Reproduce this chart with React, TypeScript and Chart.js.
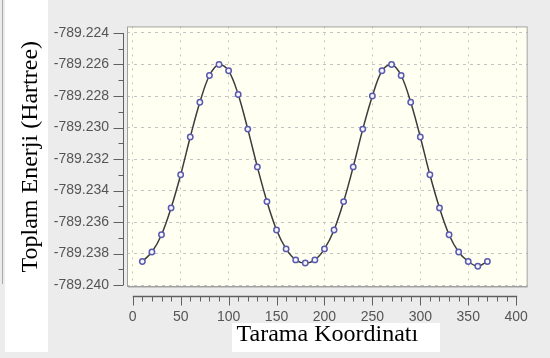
import React, { useEffect, useRef } from "react";
import { Chart, registerables } from "chart.js";

Chart.register(...registerables);

// Scan coordinate (degrees)
const scanCoordinates = [
  10, 20, 30, 40, 50, 60, 70, 80, 90, 100, 110, 120, 130, 140, 150, 160, 170, 180,
  190, 200, 210, 220, 230, 240, 250, 260, 270, 280, 290, 300, 310, 320, 330, 340,
  350, 360, 370,
];

// Total energy (Hartree)
const totalEnergies = [
  -789.2385, -789.2379, -789.2368, -789.2351, -789.233, -789.2306, -789.2284,
  -789.2267, -789.226, -789.2264, -789.2279, -789.2301, -789.2325, -789.2347,
  -789.2365, -789.2377, -789.2384, -789.2386, -789.2384, -789.2377, -789.2365,
  -789.2347, -789.2325, -789.2301, -789.228, -789.2264, -789.226, -789.2267,
  -789.2284, -789.2306, -789.233, -789.2351, -789.2368, -789.2379, -789.2385,
  -789.2388, -789.2385,
];

const xTickValues = [0, 50, 100, 150, 200, 250, 300, 350, 400];
const xMinorTickValues = [
  10, 20, 30, 40, 60, 70, 80, 90, 110, 120, 130, 140, 160, 170, 180, 190, 210, 220,
  230, 240, 260, 270, 280, 290, 310, 320, 330, 340, 360, 370, 380, 390,
];
const yTickValues = [
  -789.24, -789.238, -789.236, -789.234, -789.232, -789.23, -789.228, -789.226,
  -789.224,
];
const yMinorTickValues = [
  -789.239, -789.237, -789.235, -789.233, -789.231, -789.229, -789.227, -789.225,
];

const xAxisTitle = "Tarama Koordinatı";
const yAxisTitle = "Toplam Enerji (Hartree)";

const framePlugin = {
  id: "frame",
  beforeDraw(chart: any) {
    const { ctx, chartArea: a, width, height } = chart;
    ctx.save();
    ctx.fillStyle = "#ececec";
    ctx.fillRect(0, 0, width, height);
    ctx.fillStyle = "#ffffff";
    ctx.fillRect(5, 0, 43, 352);
    ctx.fillRect(232, 323, 208, 29);
    ctx.strokeStyle = "#a8a8a8";
    ctx.lineWidth = 1;
    ctx.beginPath();
    ctx.moveTo(2.5, 0);
    ctx.lineTo(2.5, 284);
    ctx.stroke();
    ctx.fillStyle = "#fffff2";
    ctx.fillRect(a.left, a.top, a.right - a.left, a.bottom - a.top);
    ctx.restore();
  },
  afterDraw(chart: any) {
    const { ctx, chartArea: a, scales } = chart;
    const xs = scales.x;
    const ys = scales.y;
    ctx.save();
    // plot border
    ctx.strokeStyle = "#a0a0a0";
    ctx.lineWidth = 1;
    ctx.strokeRect(a.left + 0.5, a.top + 0.5, a.right - a.left - 1, a.bottom - a.top - 1);
    ctx.strokeStyle = "#c8c8c8";
    ctx.beginPath();
    ctx.moveTo(a.left + 1, a.bottom + 0.5);
    ctx.lineTo(a.right, a.bottom + 0.5);
    ctx.stroke();

    ctx.strokeStyle = "#606060";
    ctx.lineWidth = 1;
    // y axis
    const ax = a.left - 3.5;
    const yTop = ys.getPixelForValue(yTickValues[yTickValues.length - 1]);
    const yBot = ys.getPixelForValue(yTickValues[0]);
    ctx.beginPath();
    ctx.moveTo(ax, yTop);
    ctx.lineTo(ax, yBot);
    yTickValues.forEach((v) => {
      const p = Math.round(ys.getPixelForValue(v)) + 0.5;
      ctx.moveTo(ax - 10, p);
      ctx.lineTo(ax, p);
    });
    yMinorTickValues.forEach((v) => {
      const p = Math.round(ys.getPixelForValue(v)) + 0.5;
      ctx.moveTo(ax - 5, p);
      ctx.lineTo(ax, p);
    });
    ctx.stroke();

    // x axis
    const ay = a.bottom + 9.5;
    const xL = xs.getPixelForValue(xTickValues[0]);
    const xR = xs.getPixelForValue(xTickValues[xTickValues.length - 1]);
    ctx.lineWidth = 1.5;
    ctx.beginPath();
    ctx.moveTo(xL, ay);
    ctx.lineTo(xR + 1, ay);
    ctx.stroke();
    ctx.lineWidth = 1;
    ctx.beginPath();
    xTickValues.forEach((v) => {
      const p = Math.round(xs.getPixelForValue(v)) + 0.5;
      ctx.moveTo(p, ay);
      ctx.lineTo(p, ay + 9);
    });
    xMinorTickValues.forEach((v) => {
      const p = Math.round(xs.getPixelForValue(v)) + 0.5;
      ctx.moveTo(p, ay);
      ctx.lineTo(p, ay + 5);
    });
    ctx.stroke();
    ctx.restore();
  },
};

export default function App() {
  const canvasRef = useRef<HTMLCanvasElement | null>(null);

  useEffect(() => {
    const canvas = canvasRef.current;
    if (!canvas) return;
    const points = scanCoordinates.map((x, i) => ({ x, y: totalEnergies[i] }));
    const tickFont = { family: "'Liberation Sans', Arial, sans-serif", size: 14 };
    const chart = new Chart(canvas, {
      type: "line",
      data: {
        datasets: [
          {
            data: points,
            borderColor: "#3c3c3c",
            borderWidth: 1.5,
            tension: 0.35,
            pointRadius: 2.7,
            pointBorderWidth: 1.5,
            pointBorderColor: "#5a5aae",
            pointBackgroundColor: "#f6f6ff",
            fill: false,
          },
        ],
      },
      options: {
        animation: false,
        responsive: false,
        devicePixelRatio: 1,
        layout: { padding: { top: 9, right: 5, bottom: 0, left: 0 } },
        plugins: {
          legend: { display: false },
          tooltip: { enabled: false },
        },
        scales: {
          x: {
            type: "linear",
            min: -6,
            max: 412,
            afterBuildTicks: (s: any) => {
              s.ticks = xTickValues.map((v) => ({ value: v }));
            },
            afterFit: (s: any) => {
              s.height = 71;
            },
            grid: { color: "#c4c4c4", lineWidth: 1, drawTicks: false, tickLength: 0 },
            border: { display: false, dash: [2, 5] },
            ticks: {
              font: tickFont,
              color: "#555555",
              padding: 22,
              maxRotation: 0,
              autoSkip: false,
              callback: (v: any) => String(v),
            },
            title: {
              display: true,
              text: xAxisTitle,
              color: "#000000",
              font: { family: "'Liberation Serif', 'Times New Roman', serif", size: 24 },
              padding: { top: 0, bottom: 9 },
            },
          },
          y: {
            type: "linear",
            min: -789.240119,
            max: -789.2235836,
            afterBuildTicks: (s: any) => {
              s.ticks = yTickValues.map((v) => ({ value: v }));
            },
            afterFit: (s: any) => {
              s.width = 127;
            },
            grid: { color: "#c4c4c4", lineWidth: 1, drawTicks: false, tickLength: 0 },
            border: { display: false, dash: [3, 4] },
            ticks: {
              font: tickFont,
              color: "#555555",
              padding: 18,
              autoSkip: false,
              callback: (v: any) => Number(v).toFixed(3),
            },
            title: {
              display: true,
              text: yAxisTitle,
              color: "#000000",
              font: { family: "'Liberation Serif', 'Times New Roman', serif", size: 24 },
              padding: { top: 16, bottom: 0 },
            },
          },
        },
      },
      plugins: [framePlugin],
    } as any);
    return () => chart.destroy();
  }, []);

  return (
    <div style={{ position: "fixed", left: 0, top: 0, width: 550, height: 358 }}>
      <canvas ref={canvasRef} width={550} height={358} style={{ display: "block" }} />
    </div>
  );
}
